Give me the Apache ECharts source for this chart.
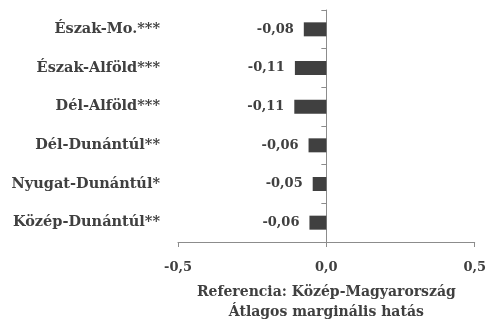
<!DOCTYPE html>
<html>
<head>
<meta charset="utf-8">
<script src="https://cdn.jsdelivr.net/npm/echarts@6/dist/echarts.min.js"></script>
<style>
  html, body { margin: 0; padding: 0; background: #fff; }
  #chart { width: 489px; height: 327px; }
</style>
</head>
<body>
<div id="chart"></div>
<script>
// regions, top to bottom
const regions = [
  "Észak-Mo.***",
  "Észak-Alföld***",
  "Dél-Alföld***",
  "Dél-Dunántúl**",
  "Nyugat-Dunántúl*",
  "Közép-Dunántúl**"
];
// average marginal effects (ref: Közép-Magyarország)
const effects = [-0.076, -0.106, -0.108, -0.06, -0.046, -0.057];
const xTicks = [-0.5, 0, 0.5];

const ink = "#404040";
const font = "DejaVu Serif";
const fmt = (v, d) => v.toFixed(d).replace(".", ",");

const chart = echarts.init(document.getElementById("chart"));
chart.setOption({
  animation: false,
  backgroundColor: "#fff",
  textStyle: { fontFamily: font, color: ink },
  grid: { left: 178, right: 11, top: 10, bottom: 84 },
  xAxis: {
    type: "value",
    min: xTicks[0],
    max: xTicks[xTicks.length - 1],
    interval: 0.5,
    splitLine: { show: false },
    axisLine: { show: true, onZero: false, lineStyle: { color: "#8c8c8c" } },
    axisTick: { show: true, length: 5, lineStyle: { color: "#8c8c8c" } },
    axisLabel: {
      margin: 19,
      fontFamily: font, fontWeight: "bold", fontSize: 13, color: ink,
      formatter: (v) => fmt(v, 1)
    },
    name: "Referencia: Közép-Magyarország\nÁtlagos marginális hatás",
    nameLocation: "middle",
    nameGap: 40,
    nameTextStyle: {
      fontFamily: font, fontWeight: "bold", fontSize: 14, color: ink, lineHeight: 20
    }
  },
  yAxis: [
    {
      type: "category",
      inverse: true,
      data: regions,
      axisLine: { show: false, onZero: false },
      axisTick: { show: false },
      axisLabel: {
        margin: 18,
        fontFamily: font, fontWeight: "bold", fontSize: 14.5, color: ink
      }
    },
    {
      type: "category",
      inverse: true,
      position: "left",
      data: regions,
      axisLine: { show: true, onZero: true, lineStyle: { color: "#8c8c8c" } },
      axisTick: { show: true, length: 5, lineStyle: { color: "#8c8c8c" } },
      axisLabel: { show: false }
    }
  ],
  series: [{
    type: "bar",
    yAxisIndex: 0,
    data: effects,
    barWidth: 14,
    itemStyle: { color: ink },
    label: {
      show: true,
      position: "left",
      distance: 10,
      fontFamily: font, fontWeight: "bold", fontSize: 13, color: ink,
      formatter: (p) => fmt(p.value, 2)
    }
  }]
});
</script>
</body>
</html>
